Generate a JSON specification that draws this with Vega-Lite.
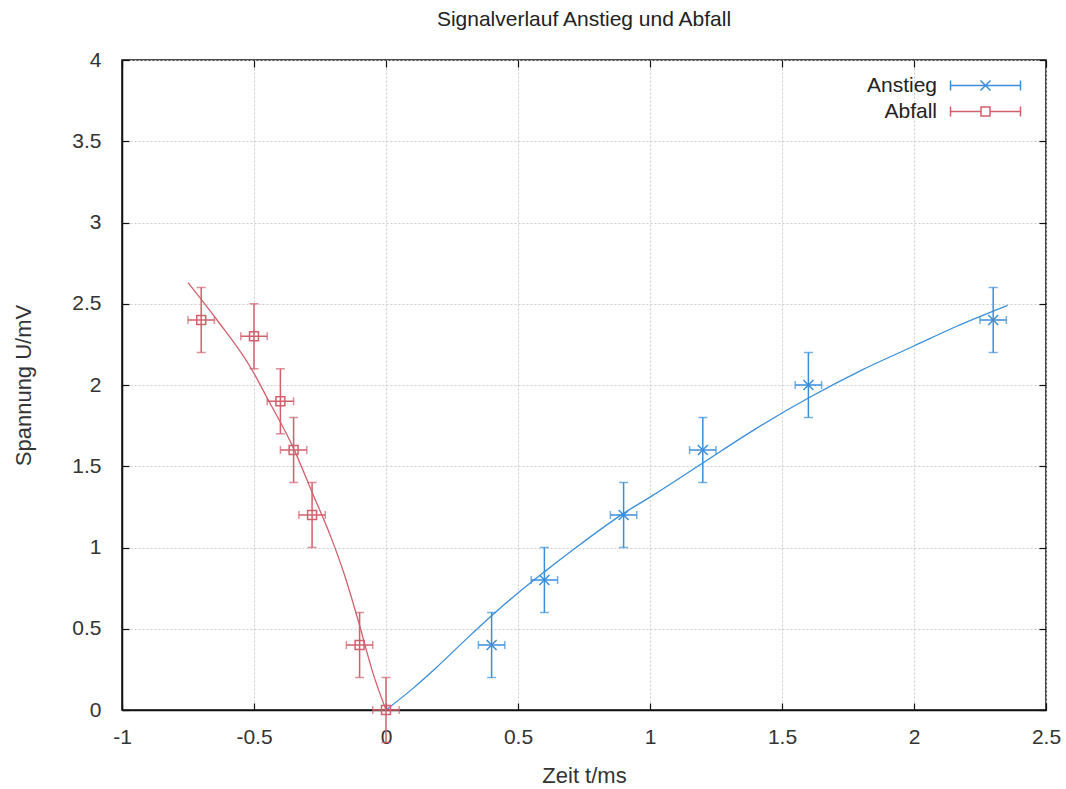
{
  "$schema": "https://vega.github.io/schema/vega-lite/v6.json",
  "width": 924,
  "height": 650,
  "autosize": {"type": "none"},
  "padding": {"left": 122, "top": 60, "right": 20, "bottom": 79},
  "background": "white",
  "title": {"text": "Signalverlauf Anstieg und Abfall", "fontSize": 21, "font": "Liberation Sans", "fontWeight": "normal", "color": "#222", "offset": 19, "anchor": "middle"},
  "config": {
    "font": "Liberation Sans",
    "view": {"stroke": "#111", "strokeWidth": 1.5},
    "axis": {"labelFont": "Liberation Sans", "titleFont": "Liberation Sans", "labelFontSize": 21, "titleFontSize": 22, "titleFontWeight": "normal", "labelColor": "#333", "titleColor": "#333", "domainColor": "#111", "domainWidth": 1.5, "tickColor": "#111", "tickSize": -7, "tickWidth": 1.2, "gridColor": "#cccccc", "gridDash": [2, 2], "gridWidth": 1, "labelFlush": false, "labelOverlap": false}
  },
  "datasets": {
    "pts": [
      {"series": "Anstieg", "t": 0.4, "u": 0.4, "tmin": 0.35, "tmax": 0.45, "umin": 0.2, "umax": 0.6},
      {"series": "Anstieg", "t": 0.6, "u": 0.8, "tmin": 0.55, "tmax": 0.65, "umin": 0.6, "umax": 1.0},
      {"series": "Anstieg", "t": 0.9, "u": 1.2, "tmin": 0.85, "tmax": 0.95, "umin": 1.0, "umax": 1.4},
      {"series": "Anstieg", "t": 1.2, "u": 1.6, "tmin": 1.15, "tmax": 1.25, "umin": 1.4, "umax": 1.8},
      {"series": "Anstieg", "t": 1.6, "u": 2.0, "tmin": 1.55, "tmax": 1.65, "umin": 1.8, "umax": 2.2},
      {"series": "Anstieg", "t": 2.3, "u": 2.4, "tmin": 2.25, "tmax": 2.35, "umin": 2.2, "umax": 2.6},
      {"series": "Abfall", "t": -0.7, "u": 2.4, "tmin": -0.75, "tmax": -0.65, "umin": 2.2, "umax": 2.6},
      {"series": "Abfall", "t": -0.5, "u": 2.3, "tmin": -0.55, "tmax": -0.45, "umin": 2.1, "umax": 2.5},
      {"series": "Abfall", "t": -0.4, "u": 1.9, "tmin": -0.45, "tmax": -0.35, "umin": 1.7, "umax": 2.1},
      {"series": "Abfall", "t": -0.35, "u": 1.6, "tmin": -0.4, "tmax": -0.3, "umin": 1.4, "umax": 1.8},
      {"series": "Abfall", "t": -0.28, "u": 1.2, "tmin": -0.33, "tmax": -0.23, "umin": 1.0, "umax": 1.4},
      {"series": "Abfall", "t": -0.1, "u": 0.4, "tmin": -0.15, "tmax": -0.05, "umin": 0.2, "umax": 0.6},
      {"series": "Abfall", "t": 0.0, "u": 0.0, "tmin": -0.05, "tmax": 0.05, "umin": -0.2, "umax": 0.2}
    ],
    "fit": [
      {"series": "Anstieg", "t": 0.0, "u": 0.0},
      {"series": "Anstieg", "t": 0.1, "u": 0.13},
      {"series": "Anstieg", "t": 0.19, "u": 0.26},
      {"series": "Anstieg", "t": 0.3, "u": 0.43},
      {"series": "Anstieg", "t": 0.4, "u": 0.58},
      {"series": "Anstieg", "t": 0.5, "u": 0.72},
      {"series": "Anstieg", "t": 0.6, "u": 0.85},
      {"series": "Anstieg", "t": 0.72, "u": 1.0},
      {"series": "Anstieg", "t": 0.9, "u": 1.21},
      {"series": "Anstieg", "t": 1.0, "u": 1.31},
      {"series": "Anstieg", "t": 1.2, "u": 1.52},
      {"series": "Anstieg", "t": 1.4, "u": 1.73},
      {"series": "Anstieg", "t": 1.6, "u": 1.92},
      {"series": "Anstieg", "t": 1.8, "u": 2.09},
      {"series": "Anstieg", "t": 2.0, "u": 2.24},
      {"series": "Anstieg", "t": 2.16, "u": 2.36},
      {"series": "Anstieg", "t": 2.355, "u": 2.49},
      {"series": "Abfall", "t": -0.75, "u": 2.63},
      {"series": "Abfall", "t": -0.64, "u": 2.4},
      {"series": "Abfall", "t": -0.51, "u": 2.1},
      {"series": "Abfall", "t": -0.45, "u": 1.92},
      {"series": "Abfall", "t": -0.35, "u": 1.61},
      {"series": "Abfall", "t": -0.28, "u": 1.34},
      {"series": "Abfall", "t": -0.21, "u": 1.07},
      {"series": "Abfall", "t": -0.155, "u": 0.82},
      {"series": "Abfall", "t": -0.1, "u": 0.52},
      {"series": "Abfall", "t": -0.05, "u": 0.23},
      {"series": "Abfall", "t": 0.0, "u": 0.0}
    ]
  },
  "resolve": {"axis": {"x": "independent", "y": "independent"}},
  "layer": [
    {
      "data": {"name": "fit"},
      "mark": {"type": "line", "interpolate": "monotone", "strokeWidth": 1.3, "clip": true},
      "encoding": {
        "x": {"field": "t", "type": "quantitative", "scale": {"domain": [-1, 2.5], "nice": false, "zero": false},
              "axis": {"orient": "bottom", "title": "Zeit t/ms", "format": "~g", "values": [-1, -0.5, 0, 0.5, 1, 1.5, 2, 2.5], "labelExpr": "replace(datum.label, '\u2212', '-')", "labelPadding": 23, "titlePadding": 18, "grid": true}},
        "y": {"field": "u", "type": "quantitative", "scale": {"domain": [0, 4], "nice": false, "zero": false},
              "axis": {"orient": "left", "title": "Spannung U/mV", "format": "~g", "values": [0, 0.5, 1, 1.5, 2, 2.5, 3, 3.5, 4], "labelPadding": 28, "titlePadding": 36, "grid": true}},
        "color": {"field": "series", "type": "nominal",
                  "scale": {"domain": ["Anstieg", "Abfall"], "range": ["#3a8edb", "#d25f6c"]},
                  "legend": {"orient": "none", "legendX": 850, "legendY": 12, "title": null, "padding": 0, "symbolSize": 625, "rowPadding": 2, "labelFontSize": 21, "labelFont": "Liberation Sans", "labelColor": "#222", "labelAlign": "right", "labelOffset": -62, "symbolStrokeWidth": 1.5, "symbolFillColor": "transparent",
                    "encode": {"symbols": {"update": {
                      "shape": {"signal": "datum.value === 'Anstieg' ? 'M-2.8,0H2.8M-2.8,-0.4V0.4M2.8,-0.4V0.4M-0.4,-0.4L0.4,0.4M-0.4,0.4L0.4,-0.4' : 'M-2.8,0H-0.36M0.36,0H2.8M-2.8,-0.4V0.4M2.8,-0.4V0.4M-0.36,-0.36H0.36V0.36H-0.36Z'"},
                      "fill": {"value": "transparent"},
                      "fillOpacity": {"value": 0},
                      "strokeWidth": {"value": 1.5}
                    }}}}}
      }
    },
    {
      "data": {"name": "pts"},
      "mark": {"type": "rule", "strokeWidth": 1.5},
      "encoding": {
        "x": {"field": "t", "type": "quantitative", "axis": null},
        "y": {"field": "umin", "type": "quantitative", "axis": null},
        "y2": {"field": "umax"},
        "color": {"field": "series", "type": "nominal", "legend": null}
      }
    },
    {
      "data": {"name": "pts"},
      "mark": {"type": "rule", "strokeWidth": 1.5},
      "encoding": {
        "x": {"field": "tmin", "type": "quantitative", "axis": null},
        "x2": {"field": "tmax"},
        "y": {"field": "u", "type": "quantitative", "axis": null},
        "color": {"field": "series", "type": "nominal", "legend": null}
      }
    },
    {
      "data": {"name": "pts"},
      "mark": {"type": "tick", "orient": "horizontal", "size": 9, "thickness": 1.5},
      "encoding": {
        "x": {"field": "t", "type": "quantitative", "axis": null},
        "y": {"field": "umin", "type": "quantitative", "axis": null},
        "color": {"field": "series", "type": "nominal", "legend": null}
      }
    },
    {
      "data": {"name": "pts"},
      "mark": {"type": "tick", "orient": "horizontal", "size": 9, "thickness": 1.5},
      "encoding": {
        "x": {"field": "t", "type": "quantitative", "axis": null},
        "y": {"field": "umax", "type": "quantitative", "axis": null},
        "color": {"field": "series", "type": "nominal", "legend": null}
      }
    },
    {
      "data": {"name": "pts"},
      "mark": {"type": "tick", "orient": "vertical", "size": 8, "thickness": 1.5},
      "encoding": {
        "x": {"field": "tmin", "type": "quantitative", "axis": null},
        "y": {"field": "u", "type": "quantitative", "axis": null},
        "color": {"field": "series", "type": "nominal", "legend": null}
      }
    },
    {
      "data": {"name": "pts"},
      "mark": {"type": "tick", "orient": "vertical", "size": 8, "thickness": 1.5},
      "encoding": {
        "x": {"field": "tmax", "type": "quantitative", "axis": null},
        "y": {"field": "u", "type": "quantitative", "axis": null},
        "color": {"field": "series", "type": "nominal", "legend": null}
      }
    },
    {
      "data": {"name": "pts"},
      "transform": [{"filter": "datum.series === 'Abfall'"}],
      "mark": {"type": "point", "filled": false, "strokeWidth": 1.5, "size": 80, "opacity": 1, "shape": "M-1,-1H1V1H-1Z"},
      "encoding": {
        "x": {"field": "t", "type": "quantitative", "axis": null},
        "y": {"field": "u", "type": "quantitative", "axis": null},
        "color": {"field": "series", "type": "nominal", "legend": null}
      }
    },
    {
      "data": {"name": "pts"},
      "transform": [{"filter": "datum.series === 'Anstieg'"}],
      "mark": {"type": "point", "filled": false, "strokeWidth": 1.5, "size": 100, "opacity": 1, "shape": "M-1,-1L1,1M-1,1L1,-1"},
      "encoding": {
        "x": {"field": "t", "type": "quantitative",
              "axis": {"orient": "top", "title": null, "labels": false, "grid": false, "domain": false, "values": [-1, -0.5, 0, 0.5, 1, 1.5, 2, 2.5]}},
        "y": {"field": "u", "type": "quantitative",
              "axis": {"orient": "right", "title": null, "labels": false, "grid": false, "domain": false, "values": [0, 0.5, 1, 1.5, 2, 2.5, 3, 3.5, 4]}},
        "color": {"field": "series", "type": "nominal", "legend": null}
      }
    }
  ]
}
